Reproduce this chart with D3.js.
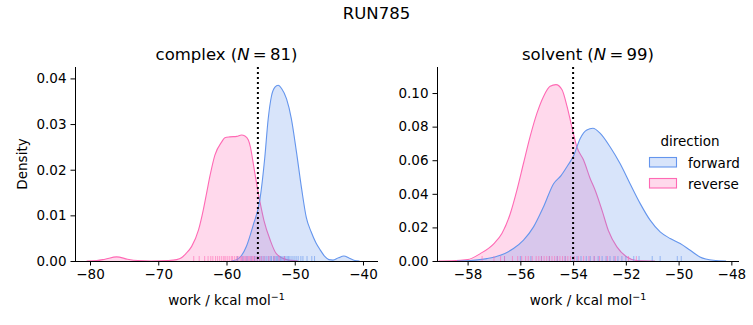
<!DOCTYPE html>
<head>
  <meta charset="utf-8">
  <style>
    body { margin: 0; background: #fff; }
    text { font-family: "DejaVu Sans", sans-serif; fill: #000; }
  </style>
  <script src="https://cdn.jsdelivr.net/npm/d3@7"></script>
</head>
<body>
  <script>

    // density curves: [work, density]
    const complexForward = [
      [-59.3, 0], [-58.5, 0.0003], [-57.8, 0.0012], [-57.06, 0.0033], [-56.1, 0.0078],
      [-55.1, 0.0135], [-54.4, 0.0225], [-53.9, 0.0310], [-53.4, 0.0362], [-52.9, 0.0381],
      [-52.43, 0.0385], [-51.93, 0.0378], [-51.2, 0.0355], [-50.5, 0.0312], [-49.75, 0.0239],
      [-49.0, 0.0159], [-48.3, 0.0095], [-47.6, 0.0064], [-46.9, 0.0040], [-46.3, 0.0025],
      [-45.6, 0.0010], [-45.0, 0.0003], [-44.4, 0.0002], [-43.6, 0.0007], [-42.8, 0.0011],
      [-42.0, 0.0006], [-41.2, 0.0001], [-40.5, 0]
    ];
    const complexReverse = [
      [-80.5, 0], [-79, 0.0001], [-77.8, 0.0004], [-76.1, 0.0009], [-74.5, 0.0004],
      [-73, 0.0001], [-71, 0], [-68.5, 0.0001], [-67.3, 0.0003], [-66.6, 0.0007],
      [-65.9, 0.0017], [-65.1, 0.0032], [-64.1, 0.0068], [-63.4, 0.0112], [-62.9, 0.0150],
      [-62.4, 0.0188], [-61.7, 0.0232], [-60.7, 0.0261], [-60.24, 0.0270], [-59.5, 0.0272],
      [-58.5, 0.0273], [-57.8, 0.0276], [-57.3, 0.0274], [-56.8, 0.0265], [-56.5, 0.0250],
      [-56.2, 0.0225], [-55.8, 0.0188], [-55.1, 0.0130], [-54.5, 0.0088], [-53.6, 0.0046],
      [-52.7, 0.0016], [-51.2, 0.0003], [-49.5, 0]
    ];
    const solventForward = [
      [-58.4, 0], [-57.9, 0.0003], [-57.27, 0.0014], [-56.76, 0.0034], [-56.26, 0.0074],
      [-55.88, 0.0124], [-55.5, 0.0203], [-55.12, 0.0323], [-54.74, 0.0460], [-54.45, 0.0510],
      [-54.2, 0.0570], [-54.0, 0.0620], [-53.73, 0.0730], [-53.48, 0.0780], [-53.25, 0.0790],
      [-52.97, 0.0760], [-52.6, 0.0680], [-52.22, 0.0580], [-51.84, 0.0460], [-51.46, 0.0343],
      [-51.08, 0.0243], [-50.7, 0.0173], [-50.32, 0.0134], [-49.94, 0.0104], [-49.56, 0.0064],
      [-49.19, 0.0024], [-48.68, 0.0004], [-48.2, 0]
    ];
    const solventReverse = [
      [-59.1, 0], [-58.6, 0.0001], [-58.0, 0.0008], [-57.52, 0.0044], [-57.0, 0.0104],
      [-56.7, 0.0164], [-56.38, 0.0283], [-56.13, 0.0422], [-55.88, 0.0582], [-55.63, 0.0740],
      [-55.37, 0.0880], [-55.12, 0.0980], [-54.87, 0.1040], [-54.65, 0.1050], [-54.42, 0.1020],
      [-54.23, 0.0920], [-54.05, 0.0800], [-53.86, 0.0680], [-53.6, 0.0600], [-53.35, 0.0490],
      [-53.16, 0.0420], [-52.9, 0.0300], [-52.66, 0.0180], [-52.34, 0.0084], [-51.96, 0.0024],
      [-51.6, 0.0003], [-50.9, 0]
    ];

    // rug samples (estimated)
    const complexForwardRug = [-58.4, -57.6, -57.0, -56.4, -55.9, -55.5, -55.1, -54.8, -54.5, -54.2,
      -53.9, -53.6, -53.4, -53.1, -52.9, -52.7, -52.5, -52.3, -52.1, -51.9, -51.7, -51.5, -51.3,
      -51.1, -50.9, -50.7, -50.4, -50.1, -49.8, -49.5, -49.1, -48.8, -48.2, -47.5, -47.1];
    const complexReverseRug = [-64.8, -64.0, -63.2, -62.7, -62.3, -62.0, -61.6, -61.3, -61.0, -60.7,
      -60.4, -60.2, -59.9, -59.6, -59.3, -59.1, -58.8, -58.5, -58.3, -58.0, -57.8, -57.6, -57.4,
      -57.2, -57.0, -56.8, -56.6, -56.4, -56.2, -56.0, -55.8, -55.5, -55.2, -54.9, -54.5, -53.8,
      -53.0, -52.3, -51.5];
    const solventForwardRug = [-56.6, -56.0, -55.6, -55.2, -54.9, -54.6, -54.3, -54.0, -53.85, -53.7,
      -53.5, -53.35, -53.2, -53.05, -52.9, -52.75, -52.6, -52.45, -52.3, -52.15, -52.0, -51.7,
      -51.5, -51.0, -50.7, -50.05, -49.9];
    const solventReverseRug = [-57.45, -57.0, -56.75, -56.6, -56.3, -56.1, -55.95, -55.8, -55.7,
      -55.55, -55.4, -55.3, -55.2, -55.1, -55.0, -54.9, -54.8, -54.7, -54.6, -54.5, -54.4, -54.3,
      -54.2, -54.1, -53.95, -53.8, -53.6, -53.4, -53.2, -53.0, -52.7, -52.4, -51.9, -51.6];

    const complexN = 81, solventN = 99;
    const complexMean = -55.4, solventMean = -54.0;
    const complexXTicks = [-80, -70, -60, -50, -40];
    const complexYTicks = [0, 0.01, 0.02, 0.03, 0.04];
    const solventXTicks = [-58, -56, -54, -52, -50, -48];
    const solventYTicks = [0, 0.02, 0.04, 0.06, 0.08, 0.10];
    const directions = ['forward', 'reverse'];

    const blue = '#6495ed', pink = '#ff69b4';
    const fs = '13.5px', titleFs = '16.5px';

    const w = 753, h = 325;
    const svg = d3.select('body').append('svg')
        .attr('width', w)
        .attr('height', h);

    svg.append('text')
      .attr('x', 376.5).attr('y', 13)
      .attr('text-anchor', 'middle').attr('dominant-baseline', 'central')
      .attr('font-size', titleFs)
      .text('RUN785');

    const panel = (opt) => {
      const x = d3.scaleLinear().domain(opt.xDomain).range([opt.left, opt.right]);
      const y = d3.scaleLinear().domain(opt.yDomain).range([opt.bottom, opt.top]);
      const g = svg.append('g');

      const area = d3.area()
        .x(d => x(d[0])).y0(y(0)).y1(d => y(d[1]))
        .curve(d3.curveMonotoneX);
      const line = d3.line()
        .x(d => x(d[0])).y(d => y(d[1]))
        .curve(d3.curveMonotoneX);

      // reverse first, forward on top
      [[opt.rev, pink], [opt.fwd, blue]].forEach(([data, col]) => {
        g.append('path').datum(data).attr('d', area)
          .attr('fill', col).attr('fill-opacity', 0.25);
        g.append('path').datum(data).attr('d', line)
          .attr('fill', 'none').attr('stroke', col).attr('stroke-width', 1.1);
      });

      // rugs
      const rugH = 5;
      [[opt.fwdRug, blue], [opt.revRug, pink]].forEach(([data, col]) => {
        g.selectAll(null).data(data).enter().append('line')
          .attr('x1', d => x(d)).attr('x2', d => x(d))
          .attr('y1', opt.bottom).attr('y2', opt.bottom - rugH)
          .attr('stroke', col).attr('stroke-opacity', 0.6).attr('stroke-width', 1);
      });

      g.append('line')
        .attr('x1', x(opt.mean)).attr('x2', x(opt.mean))
        .attr('y1', opt.top).attr('y2', opt.bottom)
        .attr('stroke', '#000').attr('stroke-width', 2)
        .attr('stroke-dasharray', '2,3');

      const xAxis = g.append('g')
        .attr('transform', `translate(0,${opt.bottom})`)
        .call(d3.axisBottom(x).tickValues(opt.xTicks).tickSize(4.5).tickPadding(4));
      const yAxis = g.append('g')
        .attr('transform', `translate(${opt.left},0)`)
        .call(d3.axisLeft(y).tickValues(opt.yTicks).tickSize(4.5).tickPadding(4)
          .tickFormat(d3.format('.2f')));
      [xAxis, yAxis].forEach(a => {
        a.selectAll('text').attr('font-family', 'DejaVu Sans').attr('font-size', fs).attr('fill', '#000');
        a.selectAll('line').attr('stroke', '#000');
        a.select('.domain').attr('stroke', '#000').attr('stroke-width', 1);
      });
      xAxis.select('.domain').attr('d', `M${opt.left},0.5H${opt.right}`);
      yAxis.select('.domain').attr('d', `M0.5,${opt.top}V${opt.bottom}`);

      const cx = (opt.left + opt.right) / 2;
      const t = g.append('text')
        .attr('x', cx).attr('y', 54)
        .attr('text-anchor', 'middle').attr('dominant-baseline', 'central')
        .attr('font-size', titleFs);
      t.append('tspan').text(opt.name + ' (');
      t.append('tspan').attr('font-style', 'italic').text('N');
      t.append('tspan').text('\u2009=\u2009' + opt.n + ')');

      const xl = g.append('text')
        .attr('x', cx).attr('y', 305)
        .attr('text-anchor', 'middle')
        .attr('font-size', fs);
      xl.append('tspan').text('work / kcal mol');
      xl.append('tspan').attr('dy', -5.5).attr('font-size', '9.5px').text('\u22121');
    };

    panel({
      name: 'complex', n: complexN, mean: complexMean,
      left: 75, right: 378, top: 67, bottom: 261,
      xDomain: [-82.2, -37.8], yDomain: [0, 0.0425],
      xTicks: complexXTicks, yTicks: complexYTicks,
      fwd: complexForward, rev: complexReverse,
      fwdRug: complexForwardRug, revRug: complexReverseRug
    });
    panel({
      name: 'solvent', n: solventN, mean: solventMean,
      left: 437, right: 739, top: 67, bottom: 261,
      xDomain: [-59.16, -47.71], yDomain: [0, 0.1155],
      xTicks: solventXTicks, yTicks: solventYTicks,
      fwd: solventForward, rev: solventReverse,
      fwdRug: solventForwardRug, revRug: solventReverseRug
    });

    svg.append('text')
      .attr('transform', 'translate(22,164) rotate(-90)')
      .attr('text-anchor', 'middle').attr('dominant-baseline', 'central')
      .attr('font-size', fs)
      .text('Density');

    // legend
    const leg = svg.append('g');
    leg.append('text')
      .attr('x', 690).attr('y', 141)
      .attr('text-anchor', 'middle').attr('dominant-baseline', 'central')
      .attr('font-size', fs)
      .text('direction');
    directions.forEach((dname, i) => {
      const col = i === 0 ? blue : pink;
      const yy = 157.5 + i * 21;
      leg.append('rect')
        .attr('x', 649.5).attr('y', yy).attr('width', 27).attr('height', 9.5)
        .attr('fill', col).attr('fill-opacity', 0.25)
        .attr('stroke', col).attr('stroke-width', 1.1);
      leg.append('text')
        .attr('x', 688).attr('y', yy + 5)
        .attr('dominant-baseline', 'central')
        .attr('font-size', fs)
        .text(dname);
    });

  </script>
</body>
